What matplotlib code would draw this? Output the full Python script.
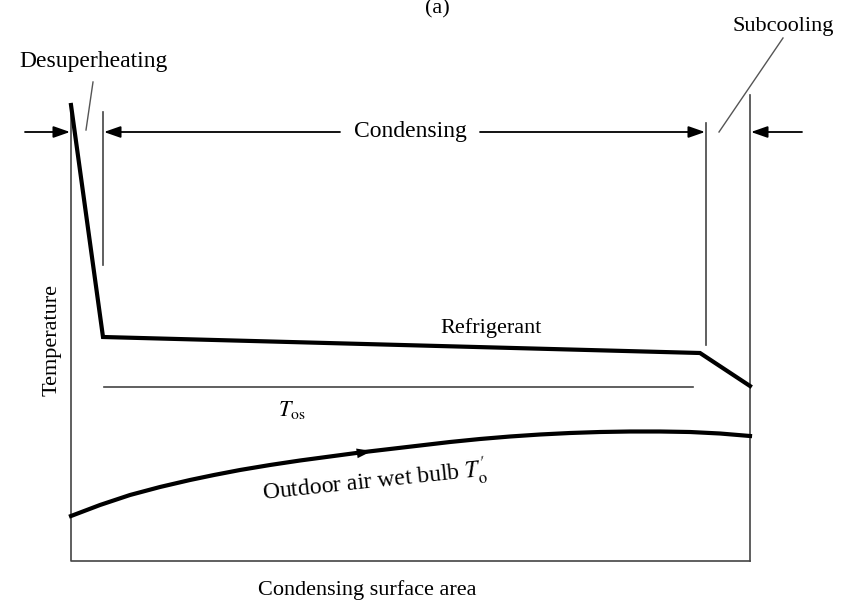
import matplotlib
matplotlib.use("Agg")
import matplotlib.pyplot as plt
import numpy as np

plt.rcParams['font.family'] = ['Liberation Serif', 'DejaVu Serif']
plt.rcParams['mathtext.fontset'] = 'stix'

# Diagram data (x: position along condensing surface, y: temperature in picture units, top = hot)
refrigerant_x = [71, 103, 700, 750]
refrigerant_y = [105, 337, 353, 386]

tos_x = [104, 693]
tos_y = [387, 387]

air_x = [71, 100, 130, 160, 190, 214, 240, 270, 300, 330, 360, 390, 420, 450,
         480, 510, 540, 570, 600, 630, 660, 690, 720, 750]
air_y = [516, 505, 495, 487, 480, 475, 470, 465, 460.5, 456.5, 452.5, 449, 445.5, 442,
         439, 436.5, 434.5, 433, 432, 431.5, 431.5, 432, 433.5, 436]

# region boundary markers (x, y_top, y_bottom)
boundary_x = [103, 706, 750]
boundary_top = [112, 123, 95]
boundary_bottom = [265, 345, 561]

fig = plt.figure(figsize=(8.5, 6.03), dpi=100)
ax = fig.add_axes([0, 0, 1, 1])
ax.set_xlim(0, 850)
ax.set_ylim(603, 0)
ax.axis('off')

thin = dict(color='#444444', lw=1.2)

# axes frame
ax.plot([71, 71, 750], [105, 561, 561], **thin)

# boundary lines
for bx, bt, bb in zip(boundary_x, boundary_top, boundary_bottom):
    ax.plot([bx, bx], [bt, bb], **thin)

# curves
ax.plot(refrigerant_x, refrigerant_y, color='black', lw=3.0, solid_joinstyle='miter')
ax.plot(tos_x, tos_y, **thin)
ax.plot(air_x, air_y, color='black', lw=3.0, solid_joinstyle='round')

# arrow on air curve
ax.annotate('', xy=(372, 451), xytext=(340, 456),
            arrowprops=dict(arrowstyle='-|>,head_length=1.1,head_width=0.35',
                            color='black', lw=0, shrinkA=0, shrinkB=0))

arrow_y = 132
ap = dict(arrowstyle='-|>,head_length=1.0,head_width=0.35', color='black', lw=1.3,
          shrinkA=0, shrinkB=0)
ax.annotate('', xy=(70, arrow_y), xytext=(25, arrow_y), arrowprops=ap)
ax.annotate('', xy=(104, arrow_y), xytext=(340, arrow_y), arrowprops=ap)
ax.annotate('', xy=(705, arrow_y), xytext=(480, arrow_y), arrowprops=ap)
ax.annotate('', xy=(751, arrow_y), xytext=(802, arrow_y), arrowprops=ap)

# leader lines
ax.plot([93, 86], [82, 130], color='#555555', lw=1.0)
ax.plot([783, 719], [38, 132], color='#555555', lw=1.0)

fs = 16
ax.text(437, 9, '(a)', ha='center', va='center', fontsize=fs)
ax.text(94, 62, 'Desuperheating', ha='center', va='center', fontsize=17)
ax.text(783, 26, 'Subcooling', ha='center', va='center', fontsize=fs)
ax.text(410, 131, 'Condensing', ha='center', va='center', fontsize=17)
ax.text(491, 328, 'Refrigerant', ha='center', va='center', fontsize=fs)
ax.text(292, 410, r'$T_{\rm os}$', ha='center', va='center', fontsize=fs)
ax.text(375, 482, r"Outdoor air wet bulb $T_{\rm o}^{\prime}$", ha='center', va='center',
        fontsize=17, rotation=6, rotation_mode='anchor')
ax.text(52, 340, 'Temperature', ha='center', va='center', fontsize=fs, rotation=90)
ax.text(367, 590, 'Condensing surface area', ha='center', va='center', fontsize=fs)

fig.savefig('out.png', dpi=100)
